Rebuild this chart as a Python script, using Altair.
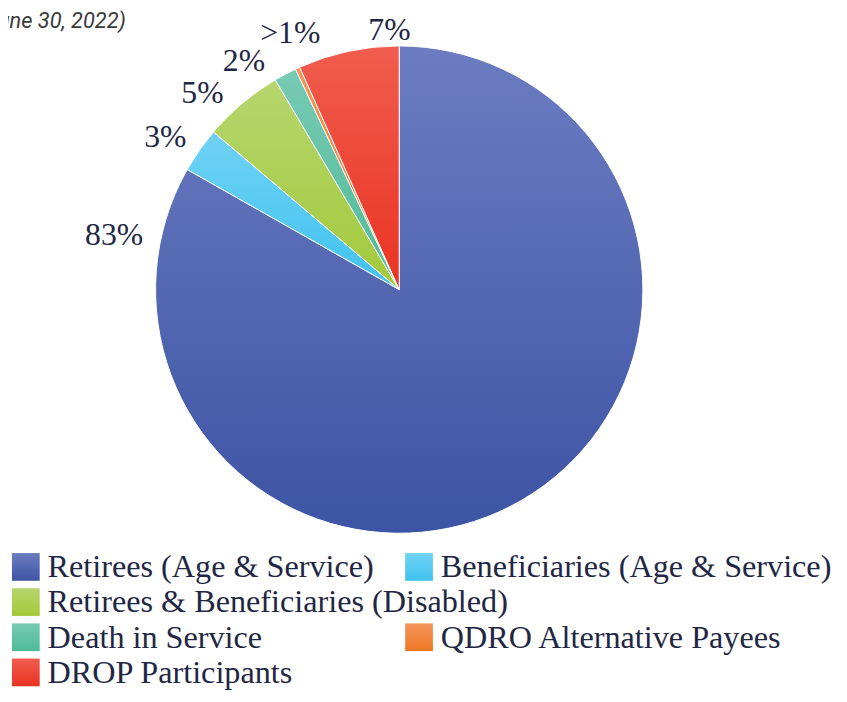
import altair as alt
import pandas as pd

# ---- data ----
categories = ["Retirees (Age & Service)", "Beneficiaries (Age & Service)",
              "Retirees & Beneficiaries (Disabled)", "Death in Service",
              "QDRO Alternative Payees", "DROP Participants"]
shares = [83.2, 3.0, 5.3, 1.5, 0.3, 6.7]
pct_labels = ["83%", "3%", "5%", "2%", ">1%", "7%"]
label_at = [78.0, 84.2, 87.5, 90.5, 93.6, 99.4]   # where each label sits, in % of the circle
color_top = ["#6b7cc1", "#70d2f5", "#b6d66e", "#78cab4", "#f5955c", "#f05d4e"]
color_bottom = ["#3d54a4", "#3fc2ee", "#a2c93a", "#4dbb97", "#ee7723", "#ea3323"]
legend_names = ["Retirees (Age & Service)", "Beneficiaries (Age & Service)",
                "Retirees & Beneficiaries (Disabled)", "Death in Service",
                "\u00a0QDRO Alternative Payees", "DROP Participants"]
legend_row = [0, 0, 1, 2, 2, 3]
legend_col = [0, 1, 0, 0, 1, 0]
subtitle = "(As of June 30, 2022)"

# ---- layout / style ----
W, H = 790, 562
R = 246
label_radius = [293, 282, 281, 279, 281, 262]
TEXT = "#1f2744"
SERIF = "Liberation Serif"


def grad(i):
    return alt.LinearGradient(
        gradient="linear", x1=0, x2=0, y1=0, y2=1,
        stops=[alt.GradientStop(offset=0, color=color_top[i]),
               alt.GradientStop(offset=1, color=color_bottom[i])])


theta_scale = alt.Scale(domain=[0, 100])

df = pd.DataFrame({"category": categories, "share": shares, "idx": list(range(len(categories)))})
base = (alt.Chart(df)
        .transform_window(cum="sum(share)", sort=[alt.SortField("idx")], frame=[None, 0])
        .transform_calculate(start="datum.cum - datum.share"))

layers = []
for i in range(len(categories)):
    layers.append(
        base.transform_filter(alt.datum.idx == i)
        .mark_arc(radius=R, fill=grad(i), stroke="white", strokeWidth=1)
        .encode(theta=alt.Theta("start:Q", scale=theta_scale), theta2="cum:Q")
    )

lab_df = pd.DataFrame({"label": pct_labels, "at": label_at, "idx": list(range(len(pct_labels)))})
for i in range(len(pct_labels)):
    layers.append(
        alt.Chart(lab_df).transform_filter(alt.datum.idx == i)
        .mark_text(radius=label_radius[i], font=SERIF, fontSize=32, color=TEXT)
        .encode(theta=alt.Theta("at:Q", scale=theta_scale), text="label:N")
    )

# legend built manually (irregular two-column layout)
leg = pd.DataFrame({"name": legend_names, "row": legend_row, "col": legend_col,
                    "idx": list(range(len(legend_names)))})
leg["sx"] = 18 + leg["col"] * 397
leg["sy"] = 561 + leg["row"] * 35.5
leg["tx"] = leg["sx"] + 22
leg["ty"] = leg["sy"] + 10.5

for i in range(len(legend_names)):
    layers.append(
        alt.Chart(leg).transform_filter(alt.datum.idx == i)
        .mark_square(size=784, fill=grad(i), opacity=1)
        .encode(x=alt.X("sx:Q", scale=None), y=alt.Y("sy:Q", scale=None))
    )

leg_text = alt.Chart(leg).mark_text(
    align="left", baseline="alphabetic", font=SERIF, fontSize=32.5, color=TEXT
).encode(x=alt.X("tx:Q", scale=None), y=alt.Y("ty:Q", scale=None), text="name:N")

sub = alt.Chart(pd.DataFrame({"t": [subtitle]})).mark_text(
    align="right", baseline="alphabetic", font="Roboto", fontStyle="italic",
    fontSize=22, color="#3a3a3a"
).encode(x=alt.value(119), y=alt.value(17), text="t:N")

chart = alt.layer(*layers, leg_text, sub).properties(
    width=W, height=H,
    autosize=alt.AutoSizeParams(type="none"),
    padding={"left": 0, "top": 0, "right": 49, "bottom": 124},
).configure_view(stroke=None)

chart.save("out.html", embed_options={"renderer": "svg", "actions": False})
